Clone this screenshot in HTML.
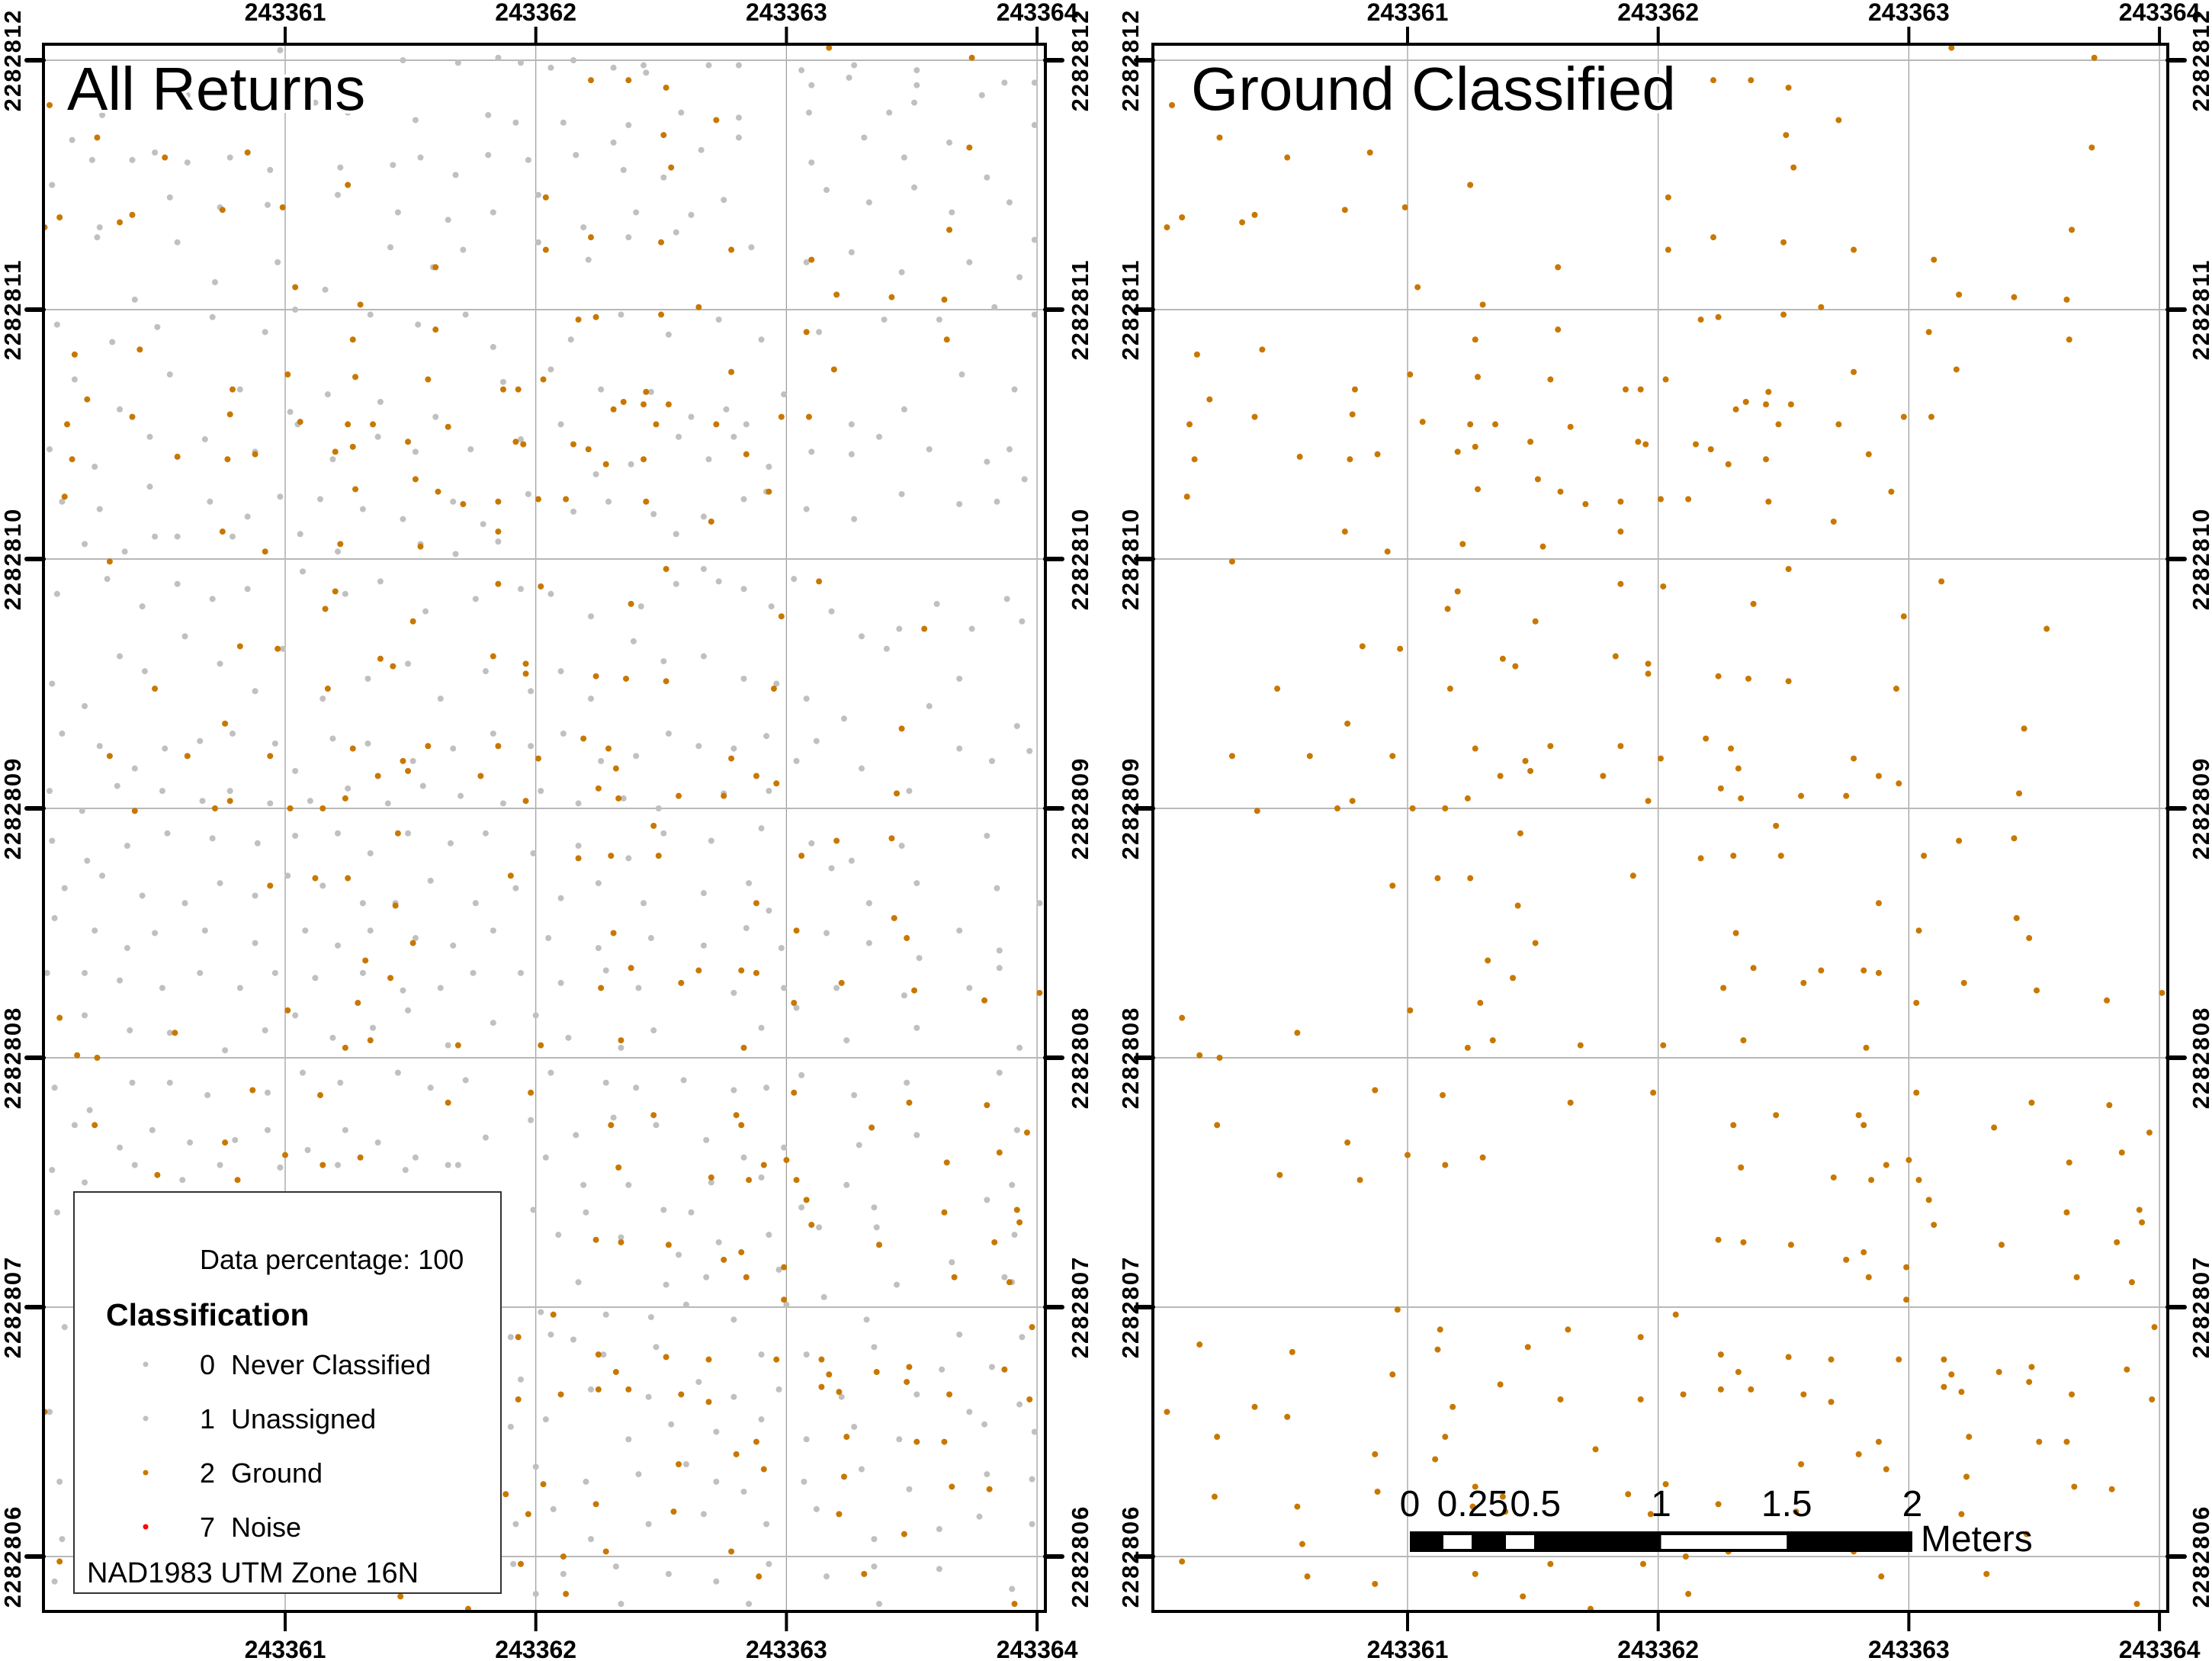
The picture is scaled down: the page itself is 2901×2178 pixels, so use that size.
<!DOCTYPE html>
<html><head><meta charset="utf-8">
<style>
html,body{margin:0;padding:0;background:#fff;}
svg{display:block;font-family:"Liberation Sans",Arial,sans-serif;}
</style></head>
<body>
<svg id="chart" width="2901" height="2178" viewBox="0 0 2901 2178" xmlns="http://www.w3.org/2000/svg">
<rect x="0" y="0" width="2901" height="2178" fill="#fff"/>
<g id="left-panel"></g>
<g id="right-panel"></g>
</svg>
<script>
// Tick values
const xTicks = [243361, 243362, 243363, 243364];
const yTicks = [2282806, 2282807, 2282808, 2282809, 2282810, 2282811, 2282812];
const E0 = 243360, N0 = 2282805;
// Ground points (easting / northing offsets in meters from E0 / N0)
const groundE = [3.17,3.74,0.06,2.22,2.37,2.52,0.25,2.72,2.51,3.73,0.85,0.52,2.54,1.25,0.04,0.10,0.34,0.39,0.75,0.99,2.04,3.65,1.60,2.50,2.04,2.22,3.10,2.78,1.04,1.30,3.20,3.42,3.63,2.17,2.65,2.50,2.24,3.08,1.27,1.60,3.64,0.16,0.42,3.19,1.01,1.28,1.57,2.03,2.78,1.87,0.79,1.93,2.44,2.43,2.53,2.31,0.21,0.13,1.06,0.39,0.78,1.25,1.35,1.65,2.72,2.98,3.09,0.15,0.57,0.77,0.88,1.20,1.27,1.49,1.92,1.95,2.15,2.28,2.43,2.84,2.21,2.48,2.35,1.52,1.28,1.61,1.71,1.85,2.01,2.12,2.93,0.12,2.44,2.70,1.85,0.75,0.92,1.22,1.54,0.30,2.52,1.20,1.85,2.02,3.13,1.16,2.38,1.51,2.98,3.55,0.82,0.97,1.38,1.43,1.83,1.96,1.96,2.24,2.36,2.52,2.95,0.48,1.17,0.76,3.46,2.19,1.27,1.57,1.85,0.30,0.61,0.94,2.01,2.29,2.32,2.25,2.78,1.47,1.49,1.37,1.78,2.88,2.96,1.24,2.33,2.57,2.75,0.72,0.78,1.02,1.15,1.96,3.44,0.40,2.47,1.45,3.20,3.42,2.17,2.30,2.49,3.06,1.12,1.25,1.90,1.44,2.88,0.94,3.43,3.48,2.31,3.04,1.51,1.32,1.42,2.38,2.58,2.65,2.82,2.88,3.22,3.51,2.26,4.01,1.29,3.03,3.79,1.01,1.24,1.34,0.10,0.56,1.69,2.34,2.02,0.17,0.25,2.83,0.87,1.14,1.65,1.98,3.03,3.49,3.80,2.80,2.82,0.24,2.30,0.76,2.47,3.34,3.96,1.00,1.15,1.30,2.33,2.70,2.85,2.91,3.00,3.64,3.85,0.49,0.81,3.04,3.08,3.92,3.10,3.63,3.93,2.24,2.34,2.53,2.75,2.82,3.37,3.83,3.67,2.99,2.84,3.89,0.96,2.99,3.98,1.13,1.12,1.64,1.93,2.07,1.48,2.25,2.52,2.32,2.69,2.96,3.14,3.17,3.36,3.49,3.87,0.17,0.54,0.94,1.37,1.61,1.93,2.10,2.25,2.37,2.58,2.69,3.14,3.21,3.48,3.65,3.97,0.04,0.39,0.52,1.18,0.24,1.15,1.75,2.88,3.24,3.52,3.63,0.87,1.11,0.23,0.88,1.27,1.38,2.03,2.57,2.80,2.91,3.23,3.66,3.81,1.88,0.56,1.26,1.39,1.97,2.24,2.55,3.21,0.58,1.35,1.49,2.11,2.78,3.47,1.27,1.57,1.94,2.28,0.10,0.60,0.87,1.46,1.73,2.12,2.89,3.31,3.91];
const groundN = [7.05,7.01,6.82,6.92,6.92,6.89,6.69,6.76,6.70,6.65,6.63,6.61,6.57,6.50,6.33,6.37,6.35,6.38,6.40,6.41,6.45,6.32,6.17,6.27,6.24,6.29,6.20,6.24,6.09,6.02,6.06,6.05,6.04,5.96,6.01,5.98,5.97,5.91,5.88,5.92,5.88,5.82,5.84,5.76,5.74,5.73,5.72,5.72,5.75,5.68,5.68,5.68,5.67,5.62,5.62,5.60,5.64,5.54,5.55,5.57,5.58,5.54,5.54,5.53,5.54,5.57,5.57,5.40,5.41,5.40,5.42,5.43,5.45,5.47,5.47,5.46,5.46,5.38,5.40,5.42,5.44,5.54,5.63,5.32,5.28,5.27,5.22,5.23,5.24,5.24,5.27,5.25,5.23,5.15,5.11,5.11,5.03,5.06,5.05,4.99,4.96,4.87,4.90,4.89,4.91,4.80,4.82,4.75,4.77,4.72,4.65,4.64,4.60,4.57,4.61,4.58,4.54,4.53,4.52,4.51,4.48,4.48,4.48,4.34,4.32,4.28,4.24,4.25,4.25,4.21,4.21,4.21,4.20,4.24,4.16,4.08,4.20,4.19,4.15,4.13,4.13,4.13,4.10,4.04,4.04,4.05,4.05,4.00,4.03,4.00,4.00,4.03,4.06,3.99,3.93,3.90,3.87,3.88,3.80,3.81,3.81,3.81,3.72,3.72,3.73,3.61,3.62,3.69,3.56,3.48,3.50,3.51,3.46,3.39,3.32,3.36,3.30,3.35,3.35,3.34,3.30,3.27,3.28,3.26,3.22,3.22,3.23,3.19,3.04,3.07,3.16,3.10,3.05,3.07,3.05,3.01,3.00,3.04,2.87,2.85,2.82,2.86,2.86,2.82,2.81,2.77,2.73,2.73,2.73,2.66,2.77,2.72,2.70,2.61,2.57,2.60,2.56,2.52,2.51,2.57,2.59,2.58,2.62,2.53,2.51,2.51,2.43,2.39,2.33,2.38,2.34,2.27,2.26,2.25,2.19,2.22,2.25,2.26,2.12,2.16,2.12,2.10,1.99,2.03,1.92,1.91,1.83,1.91,1.88,1.97,1.84,1.81,1.80,1.74,1.79,1.79,1.79,1.73,1.74,1.76,1.75,1.85,1.82,1.73,1.69,1.63,1.63,1.65,1.67,1.67,1.65,1.62,1.68,1.66,1.70,1.65,1.63,1.58,1.60,1.56,1.60,1.48,1.48,1.43,1.46,1.48,1.46,1.46,1.41,1.39,1.24,1.26,1.28,1.24,1.29,1.37,1.41,1.35,1.32,1.28,1.27,1.25,1.20,1.20,1.18,1.17,1.21,1.18,1.17,1.05,1.07,1.07,1.00,1.02,1.09,0.93,0.97,0.97,1.02,0.98,0.92,0.89,0.84,0.79,0.85,0.92,0.93,0.81];
// Unclassified (never classified / unassigned) points, easting / northing offsets in meters
const otherE = [0.98,1.47,1.69,1.85,2.15,2.31,2.43,2.69,2.81,3.06,3.27,3.52,1.94,2.06,2.44,3.10,3.25,3.52,3.87,3.99,0.17,0.27,0.61,1.12,1.25,1.52,1.81,1.92,2.11,2.37,2.58,2.81,3.09,3.41,3.51,3.78,0.15,0.23,0.39,0.48,0.61,0.78,0.94,1.22,1.43,1.54,1.68,1.81,1.97,2.16,2.31,2.35,2.51,2.66,2.81,3.10,3.31,3.47,3.65,3.80,3.99,0.07,0.26,0.54,0.74,0.93,1.21,1.45,1.65,1.83,2.01,2.19,2.40,2.62,2.75,3.16,3.33,3.51,3.66,3.89,3.99,0.25,0.40,0.57,0.72,0.97,1.16,1.42,1.59,1.71,2.01,2.21,2.37,2.56,2.86,3.08,3.26,3.46,3.73,3.93,0.09,0.31,0.49,0.71,0.92,1.04,1.34,1.53,1.72,1.83,2.14,2.34,2.53,2.73,2.90,3.13,3.39,3.61,3.83,3.99,0.16,0.34,0.54,0.82,1.02,1.17,1.38,1.60,1.87,2.06,2.26,2.46,2.62,2.76,2.84,2.99,3.26,3.47,3.70,3.91,0.06,0.24,0.46,0.68,0.88,1.05,1.19,1.37,1.52,1.74,1.94,2.10,2.24,2.38,2.57,2.69,2.79,2.93,3.10,3.26,3.37,3.57,3.80,3.89,0.11,0.26,0.46,0.57,0.70,0.85,0.98,1.14,1.31,1.47,1.67,1.79,1.97,2.15,2.29,2.47,2.56,2.67,2.83,2.92,3.08,3.27,3.46,3.69,3.84,3.95,0.20,0.36,0.48,0.79,1.06,1.21,1.54,1.68,1.85,0.09,0.29,0.43,0.57,0.71,0.85,1.07,1.24,1.38,1.56,1.76,1.94,2.06,2.22,2.42,2.56,2.67,2.73,2.83,2.94,3.03,3.18,3.30,3.45,3.60,3.74,3.88,3.94,0.07,0.20,0.34,0.44,0.60,0.74,0.88,0.99,1.15,1.33,1.49,1.62,1.80,1.98,2.10,2.22,2.39,2.51,2.67,2.83,2.96,3.08,3.23,3.40,3.57,3.69,3.92,0.11,0.26,0.40,0.52,0.66,0.79,0.96,1.04,1.19,1.33,1.51,1.67,1.83,1.98,2.11,2.26,2.40,2.53,2.65,2.79,2.92,3.04,3.12,3.30,3.49,3.69,3.82,3.97,0.06,0.19,0.33,0.51,0.67,0.78,0.94,1.10,1.25,1.41,1.55,1.70,1.87,2.02,2.17,2.35,2.49,2.75,2.93,0.07,0.21,0.37,0.53,0.71,0.89,1.04,1.21,1.34,1.49,1.66,1.80,1.99,2.17,2.37,2.51,2.70,2.90,3.10,3.26,3.46,3.80,0.12,0.27,0.43,0.60,0.74,0.88,1.01,1.15,1.31,1.44,1.58,1.76,1.92,2.10,2.25,2.43,2.67,2.85,2.93,3.18,3.33,3.52,3.84,4.01,0.08,0.24,0.37,0.48,0.68,0.88,1.08,1.21,1.34,1.52,1.67,1.83,2.05,2.25,2.46,2.67,2.84,2.98,3.16,3.33,3.53,3.69,3.85,0.05,0.20,0.34,0.51,0.66,0.82,0.96,1.12,1.31,1.47,1.62,1.75,1.94,2.10,2.28,2.41,2.79,2.99,3.20,3.47,3.73,3.85,0.20,0.38,0.54,0.76,0.92,1.04,1.19,1.35,1.49,1.65,1.83,2.00,2.13,2.34,2.47,2.90,3.04,3.24,3.52,3.93,0.08,0.22,0.39,0.54,0.69,0.93,1.07,1.22,1.45,1.58,1.72,2.06,2.28,2.40,2.59,2.79,2.92,3.06,3.27,3.48,3.85,0.16,0.34,0.47,0.62,0.80,0.93,1.09,1.24,1.37,1.52,1.65,1.80,1.98,2.16,2.31,2.48,2.68,2.83,2.99,3.29,3.52,3.92,0.07,0.20,0.40,0.59,0.74,0.98,1.21,1.48,1.69,2.04,2.19,1.99,2.20,2.37,2.51,2.62,2.70,2.90,3.06,3.24,3.35,3.80,3.90,2.09,2.34,2.57,2.73,2.93,3.13,3.36,3.66,3.90,3.91,2.17,2.52,2.68,2.97,3.15,3.44,3.87,2.02,2.28,2.46,2.60,2.79,3.00,3.32,3.69,3.94,1.90,2.06,2.15,2.27,2.48,2.90,3.08,3.35,3.62,3.82,1.94,2.22,2.45,2.65,2.79,2.97,3.22,3.52,3.73,3.93,1.90,2.04,2.37,2.54,2.72,2.90,3.08,3.27,3.45,3.79,3.99,2.00,2.20,2.41,2.60,2.72,2.83,3.07,3.30,3.49,3.80,3.98,1.92,2.07,2.22,2.45,2.67,2.92,3.12,3.35,3.61,3.77,3.98,1.91,2.11,2.32,2.53,2.72,2.93,3.16,3.35,3.61,3.90,0.09,0.12,0.06,0.10,0.11,0.08,2.00,2.34,2.85,3.37];
const otherN = [7.04,7.00,6.99,7.01,7.00,6.97,6.98,6.98,6.98,6.96,6.98,6.96,6.99,6.97,6.95,6.90,6.93,6.90,6.91,6.91,6.88,6.78,6.86,6.83,6.79,6.76,6.78,6.75,6.75,6.74,6.79,6.77,6.79,6.79,6.83,6.86,6.68,6.60,6.60,6.63,6.59,6.61,6.56,6.57,6.58,6.61,6.54,6.62,6.60,6.62,6.67,6.56,6.53,6.64,6.69,6.59,6.69,6.61,6.67,6.53,6.74,6.50,6.33,6.45,6.41,6.42,6.46,6.39,6.36,6.39,6.46,6.33,6.39,6.38,6.44,6.48,6.43,6.49,6.39,6.43,6.28,6.29,6.04,6.27,6.11,6.19,6.08,6.25,6.17,6.24,6.27,6.20,6.29,6.31,6.25,6.19,6.23,6.15,6.19,6.13,5.94,5.87,5.93,5.97,5.91,6.00,5.98,5.94,5.98,5.85,5.88,5.98,5.90,5.96,5.88,5.91,5.96,5.96,6.01,5.98,5.72,5.60,5.74,5.68,5.59,5.66,5.63,5.57,5.71,5.76,5.68,5.67,5.57,5.60,5.54,5.66,5.54,5.60,5.74,5.68,5.44,5.37,5.49,5.48,5.43,5.54,5.40,5.49,5.43,5.44,5.48,5.54,5.34,5.38,5.49,5.40,5.49,5.37,5.43,5.42,5.49,5.44,5.39,5.44,5.23,5.20,5.29,5.09,5.23,5.17,5.25,5.24,5.20,5.16,5.23,5.14,5.26,5.19,5.23,5.18,5.10,5.17,5.24,5.27,5.20,5.16,5.26,5.22,5.23,5.32,5.06,5.03,5.09,5.09,5.10,5.03,5.06,5.02,5.07,4.86,4.92,4.81,4.90,4.84,4.88,4.95,4.86,4.91,4.79,4.84,4.88,4.86,4.77,4.81,4.90,4.96,4.91,4.88,4.81,4.92,4.79,4.69,4.72,4.82,4.72,4.84,4.75,4.50,4.41,4.61,4.55,4.69,4.58,4.47,4.64,4.44,4.52,4.58,4.44,4.55,4.47,4.55,4.44,4.67,4.59,4.61,4.52,4.50,4.44,4.36,4.64,4.41,4.52,4.33,4.30,4.25,4.16,4.24,4.27,4.30,4.26,4.15,4.28,4.26,4.19,4.24,4.30,4.25,4.30,4.19,4.21,4.30,4.25,4.24,4.29,4.19,4.27,4.16,4.07,4.24,4.19,4.23,4.07,3.99,4.09,4.07,4.03,4.07,4.02,4.03,4.08,4.02,4.09,4.05,4.02,4.07,4.02,4.04,4.00,4.06,4.07,3.87,3.79,3.85,3.90,3.88,3.86,3.89,3.90,3.82,3.90,3.86,3.90,3.82,3.85,3.80,3.90,3.87,3.92,3.86,3.79,3.85,3.89,3.68,3.73,3.65,3.62,3.70,3.65,3.73,3.69,3.62,3.62,3.71,3.62,3.68,3.64,3.70,3.62,3.66,3.70,3.59,3.76,3.62,3.70,3.68,3.62,3.56,3.51,3.44,3.50,3.51,3.46,3.51,3.45,3.51,3.48,3.45,3.51,3.48,3.44,3.48,3.45,3.52,3.44,3.50,3.46,3.40,3.51,3.43,3.34,3.34,3.31,3.28,3.34,3.28,3.34,3.32,3.34,3.27,3.28,3.34,3.34,3.30,3.35,3.28,3.26,3.28,3.28,3.25,3.28,3.36,3.17,3.11,3.10,3.03,3.11,3.17,3.08,3.12,3.19,3.05,3.14,3.17,3.08,3.04,3.11,3.12,3.20,3.07,3.12,3.04,2.88,2.79,2.90,2.90,2.85,2.86,2.94,2.90,2.94,2.88,2.91,2.94,2.90,2.88,2.91,2.87,2.88,2.93,2.85,2.90,2.94,2.73,2.64,2.71,2.66,2.67,2.71,2.63,2.71,2.66,2.60,2.57,2.68,2.75,2.69,2.76,2.73,2.67,2.60,2.64,2.65,2.69,2.71,2.55,2.50,2.57,2.51,2.57,2.56,2.57,2.55,2.57,2.60,2.49,2.39,2.38,2.49,2.39,2.38,2.50,2.52,2.40,2.49,2.40,2.43,2.49,2.29,2.28,2.21,2.26,2.29,2.32,2.32,2.18,2.10,2.29,2.10,2.09,2.12,2.15,2.04,2.09,2.12,1.98,1.97,1.96,2.01,1.95,2.01,1.95,1.89,1.88,1.88,1.89,1.87,1.81,1.84,1.81,1.81,1.84,1.75,1.76,1.71,1.67,1.64,1.70,1.64,1.67,1.64,1.65,1.58,1.61,1.52,1.55,1.47,1.53,1.50,1.55,1.47,1.52,1.47,1.53,1.50,1.36,1.30,1.33,1.37,1.30,1.26,1.30,1.35,1.27,1.33,1.31,1.13,1.19,1.07,1.13,1.17,1.13,1.19,1.07,1.11,1.16,1.13,0.97,0.93,0.96,0.93,0.90,0.97,0.92,0.96,0.95,0.87,2.38,1.92,1.58,1.30,1.07,0.90,0.85,0.81,0.81,0.81];

const NS = 'http://www.w3.org/2000/svg';
function mk(tag, attrs, parent) {
  const el = document.createElementNS(NS, tag);
  for (const k in attrs) el.setAttribute(k, attrs[k]);
  if (parent) parent.appendChild(el);
  return el;
}
const GROUND = '#c87800', GRAY = '#c0c0c0';

const panels = [
  {g: document.getElementById('left-panel'), x0: 57, x1: 1371, y0: 58, y1: 2113, tx: 374, dx: 328.7,
   title: 'All Returns', titleX: 88, labL: 16, labR: 1416, showOther: true},
  {g: document.getElementById('right-panel'), x0: 1512, x1: 2843, y0: 58, y1: 2113, tx: 1846, dx: 328.7,
   title: 'Ground Classified', titleX: 1562, labL: 1482, labR: 2886, showOther: false}
];
const yT = 79, dy = 327;

panels.forEach(function(p) {
  const xScale = function(e) { return p.tx + (e - (xTicks[0] - E0)) * p.dx; };
  const yScale = function(n) { return yT + ((yTicks[yTicks.length-1] - N0) - n) * dy; };
  const clipId = 'clip' + p.x0;
  const cp = mk('clipPath', {id: clipId}, p.g);
  mk('rect', {x: p.x0, y: p.y0, width: p.x1 - p.x0, height: p.y1 - p.y0}, cp);

  xTicks.forEach(function(t) {
    const x = xScale(t - E0);
    const gl = mk('line', {x1: x, y1: p.y0, x2: x, y2: p.y1, stroke: '#9a9a9a', 'stroke-width': 1.2}, p.g);
    
    
  });
  yTicks.forEach(function(t) {
    const y = yScale(t - N0);
    const gl = mk('line', {x1: p.x0, y1: y, x2: p.x1, y2: y, stroke: '#b8b8b8', 'stroke-width': 2}, p.g);
    
    
  });

  const pts = mk('g', {'clip-path': 'url(#' + clipId + ')'}, p.g);
  
  
  if (p.showOther) {
    for (let i = 0; i < otherE.length; i++) {
      const c = mk('circle', {cx: xScale(otherE[i]), cy: yScale(otherN[i]), r: 4, fill: GRAY}, pts);
      
      
    }
  }
  for (let i = 0; i < groundE.length; i++) {
    const c = mk('circle', {cx: xScale(groundE[i]), cy: yScale(groundN[i]), r: 4, fill: GROUND}, pts);
    
    
  }

  const fr = mk('rect', {x: p.x0, y: p.y0, width: p.x1 - p.x0, height: p.y1 - p.y0, fill: 'none', stroke: '#000', 'stroke-width': 4}, p.g);
  
  

  xTicks.forEach(function(t) {
    const x = xScale(t - E0);
    mk('line', {x1: x, y1: p.y0 - 23, x2: x, y2: p.y0, stroke: '#000', 'stroke-width': 4}, p.g);
    mk('line', {x1: x, y1: p.y1, x2: x, y2: p.y1 + 26, stroke: '#000', 'stroke-width': 4}, p.g);
    const lt = mk('text', {x: x, y: 27, 'text-anchor': 'middle', 'font-size': 32, 'font-weight': 'bold', fill: '#000'}, p.g);
    lt.textContent = String(t);
    
    
    const lb = mk('text', {x: x, y: 2174, 'text-anchor': 'middle', 'font-size': 32, 'font-weight': 'bold', fill: '#000'}, p.g);
    lb.textContent = String(t);
    
    
  });
  yTicks.forEach(function(t) {
    const y = yScale(t - N0);
    mk('line', {x1: p.x0 - 22, y1: y, x2: p.x0, y2: y, stroke: '#000', 'stroke-width': 6, 'stroke-linecap': 'round'}, p.g);
    mk('line', {x1: p.x1, y1: y, x2: p.x1 + 22, y2: y, stroke: '#000', 'stroke-width': 6, 'stroke-linecap': 'round'}, p.g);
    [p.labL, p.labR].forEach(function(lx) {
      const tl = mk('text', {x: 0, y: 0, 'text-anchor': 'middle', 'font-size': 31, 'font-weight': 'bold', 'letter-spacing': 2, fill: '#000',
        transform: 'translate(' + (lx + 11) + ',' + y + ') rotate(-90)'}, p.g);
      tl.textContent = String(t);
      
      
    });
  });

  const ti = mk('text', {x: p.titleX, y: 144, 'font-size': 80, fill: '#000', stroke: '#fff', 'stroke-width': 8, 'paint-order': 'stroke', 'stroke-linejoin': 'round'}, p.g);
  ti.textContent = p.title;
  
  
});

// Legend (left panel)
(function() {
  const g = mk('g', {}, document.getElementById('left-panel'));
  
  
  mk('rect', {x: 97, y: 1563, width: 560, height: 526, fill: '#fff', stroke: '#333', 'stroke-width': 2}, g);
  const dp = mk('text', {x: 262, y: 1664, 'font-size': 36, fill: '#000'}, g);
  dp.textContent = 'Data percentage: 100';
  const cl = mk('text', {x: 139, y: 1738, 'font-size': 41, 'font-weight': 'bold', fill: '#000'}, g);
  cl.textContent = 'Classification';
  const codes = ['0', '1', '2', '7'];
  const names = ['Never Classified', 'Unassigned', 'Ground', 'Noise'];
  const cols = [GRAY, GRAY, GROUND, '#ff0000'];
  const rowsY = [1789, 1860, 1931, 2002];
  for (let i = 0; i < codes.length; i++) {
    const d = mk('circle', {cx: 191, cy: rowsY[i], r: 3.5, fill: cols[i]}, g);
    
    
    const c = mk('text', {x: 262, y: rowsY[i] + 13, 'font-size': 36, fill: '#000'}, g);
    c.textContent = codes[i];
    const n = mk('text', {x: 303, y: rowsY[i] + 13, 'font-size': 36, fill: '#000'}, g);
    n.textContent = names[i];
    
    
  }
  const nad = mk('text', {x: 114, y: 2075, 'font-size': 38, fill: '#000'}, g);
  nad.textContent = 'NAD1983 UTM Zone 16N';
  
  
})();

// Scale bar (right panel)
(function() {
  const g = mk('g', {}, document.getElementById('right-panel'));
  
  
  const bx0 = 1849, bx1 = 2508, per = (bx1 - bx0) / 2;
  mk('rect', {x: bx0, y: 2008, width: bx1 - bx0, height: 27, fill: '#000'}, g);
  mk('rect', {x: bx0 + 44, y: 2013, width: 37, height: 18, fill: '#fff'}, g);
  mk('rect', {x: bx0 + 126, y: 2013, width: 37, height: 18, fill: '#fff'}, g);
  mk('rect', {x: bx0 + 1.0 * per, y: 2013, width: 0.5 * per, height: 18, fill: '#fff'}, g);
  const labs = ['0', '0.25', '0.5', '1', '1.5', '2'];
  const pos = [0, 0.25, 0.5, 1, 1.5, 2];
  for (let i = 0; i < labs.length; i++) {
    const t = mk('text', {x: bx0 + pos[i] * per, y: 1988, 'text-anchor': 'middle', 'font-size': 48, fill: '#000'}, g);
    t.textContent = labs[i];
  }
  const m = mk('text', {x: 2519, y: 2034, 'font-size': 48, fill: '#000'}, g);
  m.textContent = 'Meters';
})();
</script>
</body></html>
